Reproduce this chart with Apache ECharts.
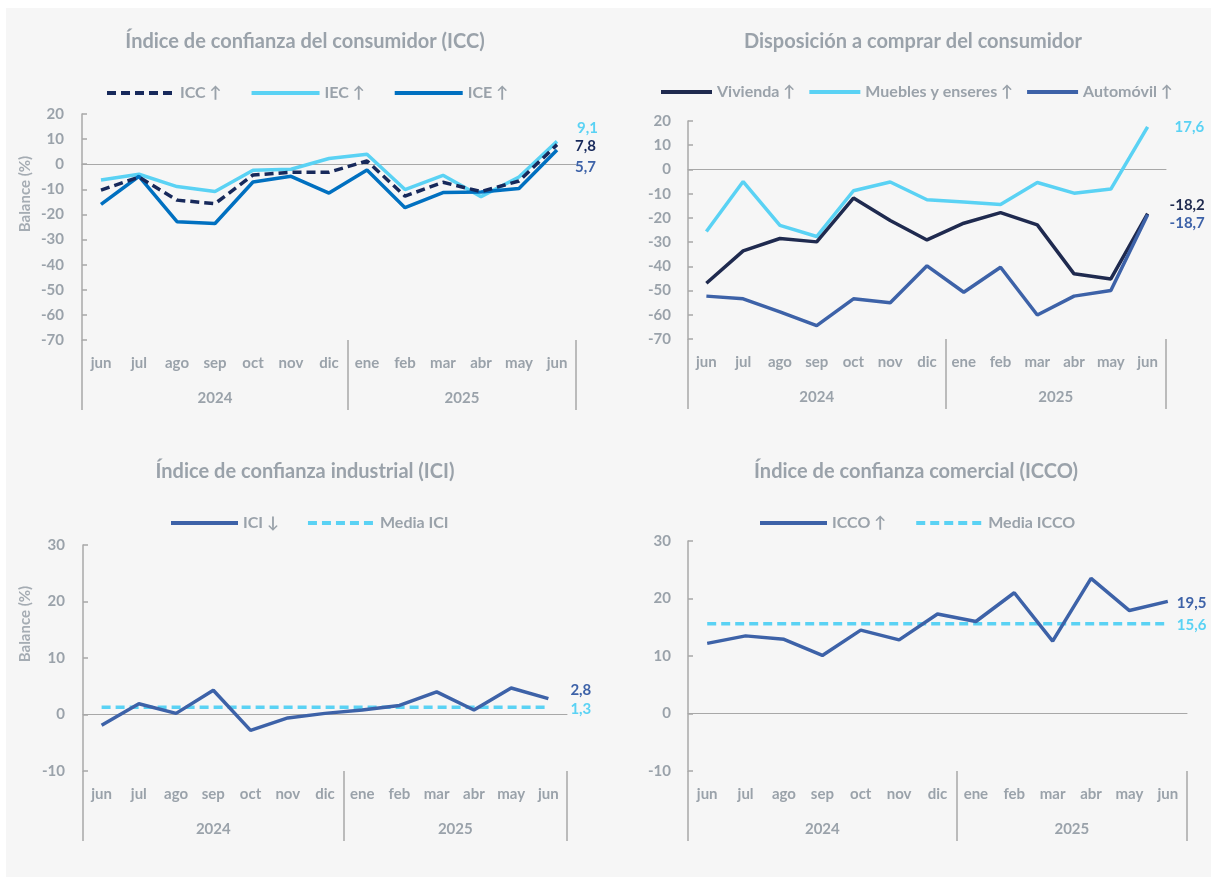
<!DOCTYPE html>
<html><head><meta charset="utf-8">
<script src="https://cdn.jsdelivr.net/npm/echarts@6/dist/echarts.min.js"></script>
<style>html,body{margin:0;padding:0;background:#fff}#c{width:1211px;height:877px}</style>
</head><body><div id="c"></div>
<script>
// ---- data ----
const months = ['jun','jul','ago','sep','oct','nov','dic','ene','feb','mar','abr','may','jun'];
const years = ['2024','2025'];
const monthsPerYear = [7, 6];

const icc = [-10.3, -5.1, -14.3, -15.7, -4.3, -3.2, -3.2, 1.3, -12.7, -7.2, -10.9, -6.7, 7.8];
const iec = [-6.3, -4.0, -8.9, -10.9, -2.4, -2.0, 2.3, 4.0, -10.1, -4.4, -12.9, -5.1, 9.1];
const ice = [-16.0, -4.8, -22.9, -23.6, -7.1, -4.8, -11.5, -2.3, -17.3, -11.3, -11.1, -9.7, 5.7];

const vivienda = [-47.0, -33.6, -28.5, -29.9, -11.8, -21.1, -29.1, -22.2, -17.8, -22.9, -43.1, -45.2, -18.2];
const muebles = [-25.6, -5.0, -23.1, -27.7, -8.8, -5.2, -12.5, -13.4, -14.5, -5.4, -9.8, -8.1, 17.6];
const automovil = [-52.3, -53.4, -58.8, -64.5, -53.4, -55.0, -39.8, -50.7, -40.4, -60.1, -52.3, -50.0, -18.7];

const ici = [-1.9, 1.9, 0.2, 4.3, -2.8, -0.6, 0.2, 0.8, 1.6, 4.0, 0.8, 4.7, 2.8];
const mediaIci = [1.3, 1.3, 1.3, 1.3, 1.3, 1.3, 1.3, 1.3, 1.3, 1.3, 1.3, 1.3, 1.3];

const icco = [12.2, 13.5, 12.9, 10.1, 14.5, 12.8, 17.3, 16.0, 21.0, 12.6, 23.5, 17.9, 19.5];
const mediaIcco = [15.6, 15.6, 15.6, 15.6, 15.6, 15.6, 15.6, 15.6, 15.6, 15.6, 15.6, 15.6, 15.6];

const titles = ['Índice de confianza del consumidor (ICC)', 'Disposición a comprar del consumidor',
  'Índice de confianza industrial (ICI)', 'Índice de confianza comercial (ICCO)'];

// ---- style ----
const FONT = 'Lato';
const GREY = '#9aa2aa';
const AX = '#a8a8a8';
const NAVY = '#17295b', DARK = '#1f2a4f', LIGHT = '#5ad2f4', BLUE = '#0070c0', MID = '#3d62a8';

const fmt = v => Number(v).toFixed(1).replace('.', ',');

const yearBounds = [0];
monthsPerYear.forEach(n => yearBounds.push(yearBounds[yearBounds.length - 1] + n));
const yearCenters = years.map((y, i) => (yearBounds[i] + yearBounds[i + 1]) / 2);

const grids = [
  {left: 82, top: 114, width: 494, height: 226},
  {left: 688, top: 121, width: 478, height: 218},
  {left: 83, top: 545, width: 484, height: 226},
  {left: 688, top: 541, width: 499, height: 230}
];
const yRanges = [[-70, 20], [-70, 20], [-10, 30], [-10, 30]];

const xAxes = [], yAxes = [];
grids.forEach((g, gi) => {
  xAxes.push({
    type: 'category', gridIndex: gi, data: months, position: 'bottom',
    axisLine: {show: false, onZero: false}, axisTick: {show: false},
    axisLabel: {interval: 0, margin: 16, color: GREY, fontSize: 15, fontWeight: 'bold', fontFamily: FONT}
  });
  xAxes.push({
    type: 'category', gridIndex: gi, data: months,
    axisLine: {show: true, onZero: true, lineStyle: {color: AX, width: 1}},
    axisTick: {show: false}, axisLabel: {show: false}
  });
  xAxes.push({
    type: 'value', gridIndex: gi, min: 0, max: months.length, position: 'bottom',
    axisLine: {show: false, onZero: false}, splitLine: {show: false},
    axisTick: {show: true, customValues: yearBounds, length: 70, lineStyle: {color: AX, width: 1.5}},
    axisLabel: {customValues: yearCenters, margin: 51, color: GREY, fontSize: 15, fontWeight: 'bold', fontFamily: FONT,
      formatter: v => years[yearCenters.indexOf(v)] || ''}
  });
  yAxes.push({
    type: 'value', gridIndex: gi, min: yRanges[gi][0], max: yRanges[gi][1], interval: 10,
    axisLine: {show: true, onZero: false, lineStyle: {color: AX, width: 1.5}},
    axisTick: {show: true, inside: true, length: 5, lineStyle: {color: AX, width: 1.5}},
    splitLine: {show: false},
    axisLabel: {margin: gi % 2 ? 17 : 18, color: GREY, fontSize: 15, fontWeight: 'bold', fontFamily: FONT}
  });
});

function line(name, gi, arr, color, lbl, dashed, lblColor) {
  return {
    type: 'line', name: name, xAxisIndex: gi * 3, yAxisIndex: gi,
    data: arr, symbol: 'none', smooth: false,
    lineStyle: {color: color, width: 3.5, type: dashed ? [9, 5] : 'solid', cap: 'butt'},
    itemStyle: {color: color},
    endLabel: {show: true, distance: lbl[0], offset: [0, lbl[1]], color: lblColor || color,
      fontSize: 15, fontWeight: 'bold', fontFamily: FONT, formatter: p => fmt(p.value)},
    labelLayout: {hideOverlap: false},
    emphasis: {disabled: true}
  };
}

const series = [
  line('IEC ↑', 0, iec, LIGHT, [20, -13.5]),
  line('ICE ↑', 0, ice, BLUE, [18, 17], false, MID),
  line('ICC ↑', 0, icc, NAVY, [18, 2], true),
  line('Muebles y enseres ↑', 1, muebles, LIGHT, [27, 0]),
  line('Vivienda ↑', 1, vivienda, DARK, [22, -8.5]),
  line('Automóvil ↑', 1, automovil, MID, [22, 8]),
  line('Media ICI', 2, mediaIci, LIGHT, [22, 2], true),
  line('ICI ↓', 2, ici, MID, [22, -8.5]),
  line('Media ICCO', 3, mediaIcco, LIGHT, [9, 1], true),
  line('ICCO ↑', 3, icco, MID, [9, 2])
];

const legendText = {color: GREY, fontSize: 16, fontWeight: 'bold', fontFamily: FONT};
const legends = [
  {left: 105, top: 85, itemWidth: 68, itemGap: 28, data: ['ICC ↑', 'IEC ↑', 'ICE ↑']},
  {left: 659, top: 84, itemWidth: 51, itemGap: 12, data: ['Vivienda ↑', 'Muebles y enseres ↑', 'Automóvil ↑']},
  {left: 169, top: 515, itemWidth: 67, itemGap: 27, data: ['ICI ↓', 'Media ICI']},
  {left: 758, top: 515, itemWidth: 67, itemGap: 28, data: ['ICCO ↑', 'Media ICCO']}
].map(l => Object.assign({itemHeight: 14, padding: 0, textStyle: legendText, selectedMode: false,
  itemStyle: {opacity: 0}, lineStyle: {width: 4}}, l));

const titleCenters = [[305, 32], [913, 32], [305, 462], [916, 462]];
const titleOpts = titles.map((t, i) => ({
  text: t, left: titleCenters[i][0], top: titleCenters[i][1], textAlign: 'center', padding: 0,
  textStyle: {color: GREY, fontSize: 20, fontWeight: 'bold', fontFamily: FONT}
}));

const chart = echarts.init(document.getElementById('c'), null, {renderer: 'canvas'});
chart.setOption({
  backgroundColor: '#f6f6f6',
  animation: false,
  title: titleOpts,
  legend: legends,
  grid: grids,
  xAxis: xAxes,
  yAxis: yAxes,
  series: series,
  graphic: [
    {type: 'rect', shape: {x: 0, y: 0, width: 1211, height: 8}, style: {fill: '#fff'}, silent: true},
    {type: 'rect', shape: {x: 0, y: 0, width: 6, height: 877}, style: {fill: '#fff'}, silent: true},
    {type: 'text', x: 25, y: 194, rotation: Math.PI / 2,
      style: {text: 'Balance (%)', fill: '#a5acb3', font: 'bold 15px Lato', align: 'center', verticalAlign: 'middle'}},
    {type: 'text', x: 25, y: 624, rotation: Math.PI / 2,
      style: {text: 'Balance (%)', fill: '#a5acb3', font: 'bold 15px Lato', align: 'center', verticalAlign: 'middle'}}
  ]
});
</script></body></html>
